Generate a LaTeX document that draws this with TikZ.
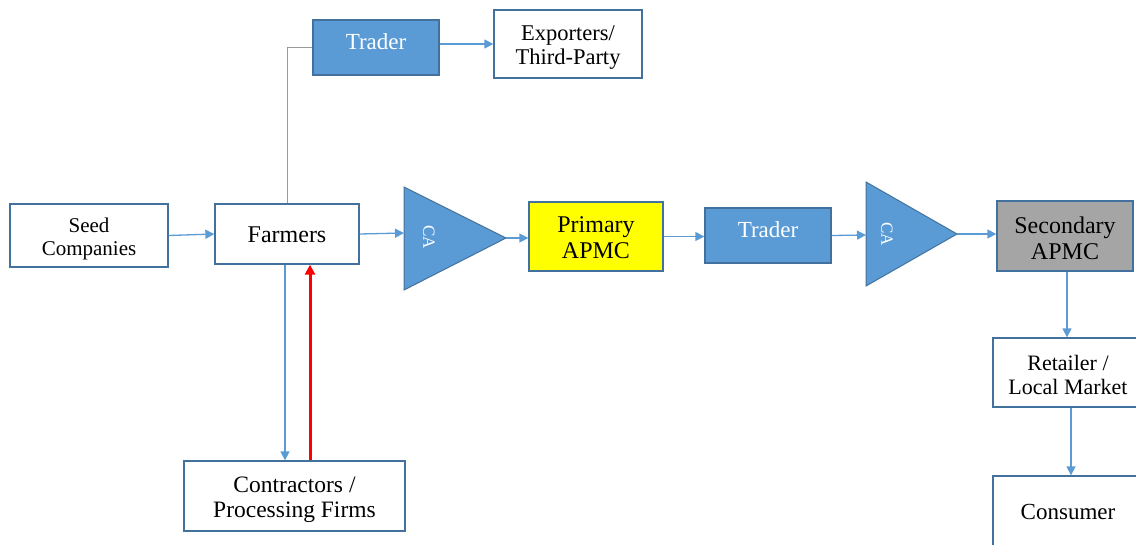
\documentclass[tikz,border=0pt]{standalone}
\usepackage{fontspec}
\setmainfont{Liberation Serif}
\usetikzlibrary{arrows.meta,calc}
\definecolor{flowblue}{HTML}{5B9BD5}
\definecolor{edgeblue}{HTML}{41719C}
\definecolor{apmcgray}{HTML}{A5A5A5}
\definecolor{apmcyellow}{HTML}{FFFF00}
\tikzset{
  box/.style={draw=edgeblue, line width=1.3pt, fill=white, inner sep=0pt},
  bluebox/.style={box, fill=flowblue},
  lbl/.style={align=center, inner sep=0pt, font=\fontsize{22}{24}\selectfont},
  wlbl/.style={lbl, text=white, font=\fontsize{23}{25}\selectfont},
  flow/.style={draw=flowblue, line width=1.3pt,
    -{Triangle[length=9pt,width=9pt]}},
  backflow/.style={draw=red, line width=3pt,
    -{Triangle[length=10pt,width=10pt]}},
  link/.style={draw=black!40, line width=0.9pt},
  agent/.style={fill=flowblue, draw=edgeblue, line width=1pt},
  agentlabel/.style={text=white, rotate=-90, font=\fontsize{17}{19}\selectfont}
}
\begin{document}
\begin{tikzpicture}[x=1pt,y=-1pt]
\useasboundingbox (0,0) rectangle (1136,544);

% boxes, each with its text set as a centred label
\node[box, minimum width=158, minimum height=63,
  label={[lbl, yshift=-3pt, font=\fontsize{21}{23}\selectfont]center:Seed\\Companies}]
  (seed) at (89,235.5) {};
\node[box, minimum width=144, minimum height=60,
  label={[lbl, yshift=-1pt, font=\fontsize{24}{26}\selectfont]center:Farmers}]
  (farmers) at (287,234) {};
\node[bluebox, minimum width=126, minimum height=55,
  label={[wlbl, yshift=6pt]center:Trader}]
  (tradert) at (376,47.5) {};
\node[box, minimum width=148, minimum height=68,
  label={[lbl, yshift=-4pt, font=\fontsize{22.5}{24}\selectfont]center:Exporters/\\Third-Party}]
  (exporters) at (568,44) {};
\node[box, fill=apmcyellow, minimum width=134, minimum height=69,
  label={[lbl, yshift=-1pt, font=\fontsize{24}{25.5}\selectfont]center:Primary\\APMC}]
  (primary) at (596,236.5) {};
\node[bluebox, minimum width=126, minimum height=55,
  label={[wlbl, yshift=5.5pt]center:Trader}]
  (traderm) at (768,235.5) {};
\node[box, fill=apmcgray, minimum width=136, minimum height=70,
  label={[lbl, yshift=-2.5pt, font=\fontsize{24}{25.5}\selectfont]center:Secondary\\APMC}]
  (secondary) at (1065,236) {};
\node[box, minimum width=150, minimum height=69,
  label={[lbl, yshift=-2pt]center:Retailer /\\Local Market}]
  (retailer) at (1068,372.5) {};
\node[box, minimum width=150, minimum height=72,
  label={[lbl, font=\fontsize{23}{25}\selectfont]center:Consumer}]
  (consumer) at (1068,512) {};
\node[box, minimum width=221, minimum height=70,
  label={[lbl, yshift=-3.5pt, font=\fontsize{23.5}{25.5}\selectfont]center:Contractors /\\Processing Firms}]
  (contr) at (294.5,496) {};

% commission agents
\draw[agent] (404,187) -- (506,238) -- (404,290) -- cycle;
\coordinate (ca1w) at (404,233);
\coordinate (ca1e) at (506,238);
\node[agentlabel] (ca1) at (429,237) {CA};
\draw[agent] (866,182) -- (957,234) -- (866,286) -- cycle;
\coordinate (ca2w) at (866,235);
\coordinate (ca2e) at (957,234);
\node[agentlabel] (ca2) at (887,234) {CA};

% main chain
\draw[flow] (seed.east) -- (farmers.west);
\draw[flow] (farmers.east) -- (ca1w);
\draw[flow] (ca1e) -- (ca1e -| primary.west);
\draw[flow] (primary.east) -- (primary.east -| traderm.west);
\draw[flow] (traderm.east) -- (ca2w);
\draw[flow] (ca2e) -- (ca2e -| secondary.west);
\draw[flow] ([xshift=2pt]secondary.south) -- ([xshift=2pt]secondary.south |- retailer.north);
\draw[flow] ([xshift=3pt]retailer.south) -- ([xshift=3pt]retailer.south |- consumer.north);

% side branches
\draw[link] (farmers.north) |- (tradert.west);
\draw[flow] (tradert.east |- exporters.west) -- (exporters.west);
\draw[flow] ([xshift=-2pt]farmers.south) -- ([xshift=-2pt]farmers.south |- contr.north);
\draw[backflow] ([xshift=23pt]farmers.south |- contr.north) -- ([xshift=23pt]farmers.south);
\end{tikzpicture}
\end{document}
